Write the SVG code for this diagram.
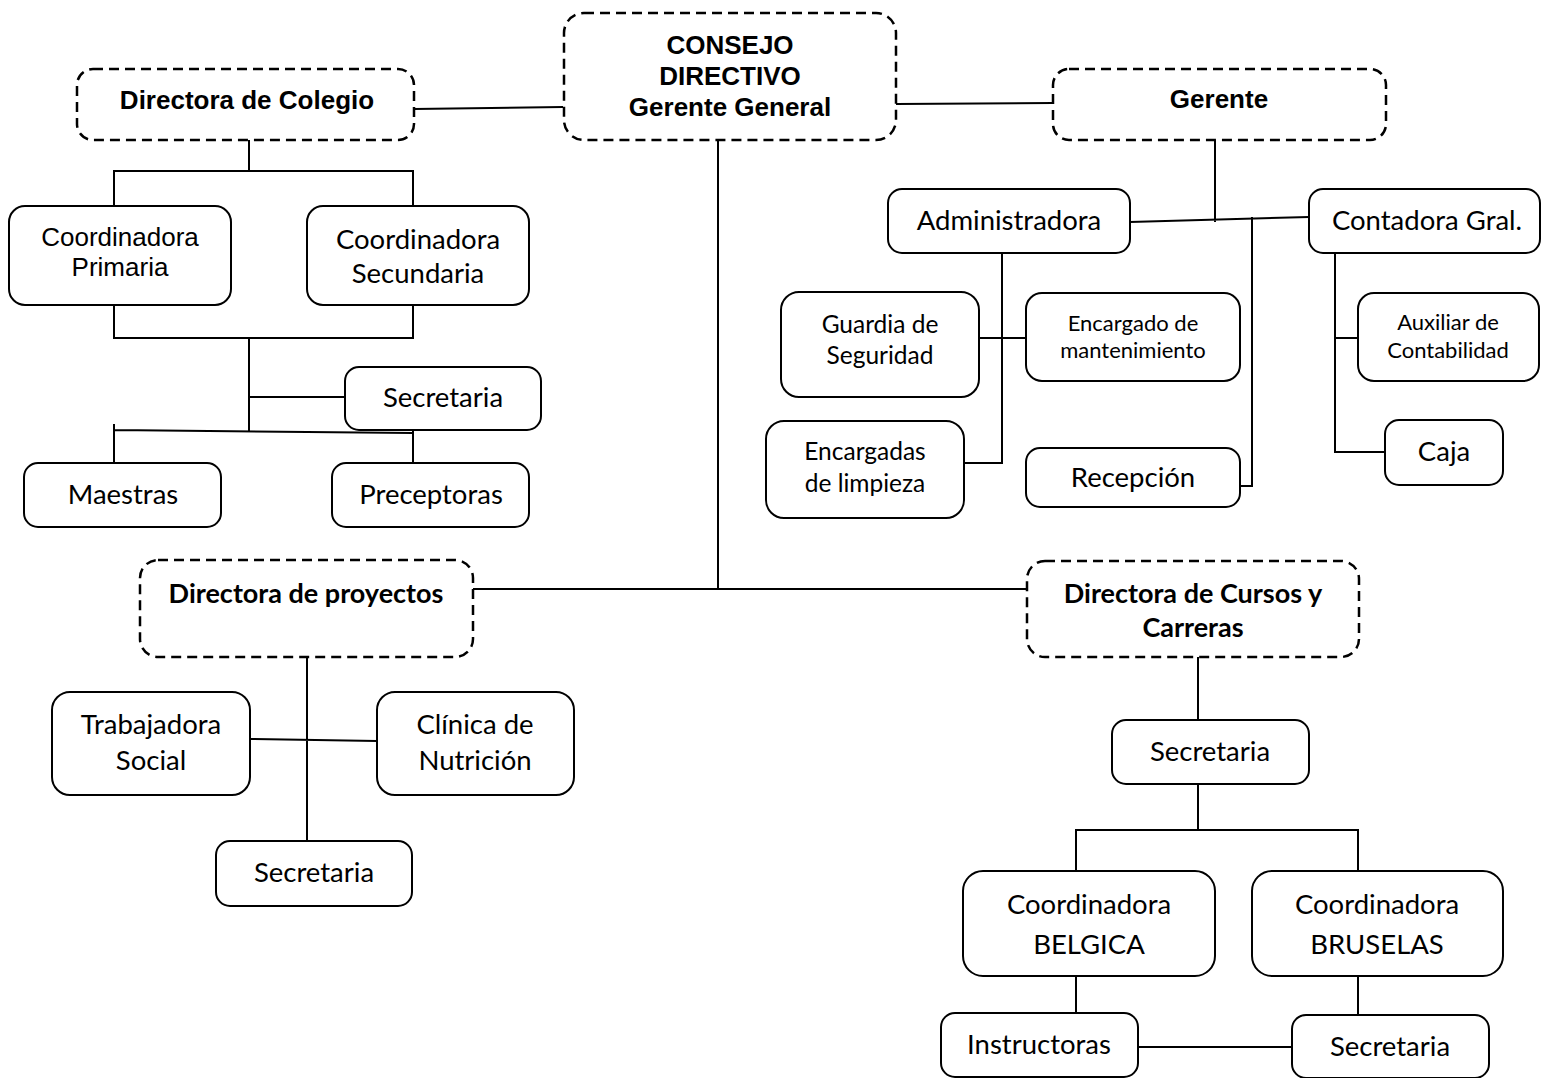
<svg xmlns="http://www.w3.org/2000/svg" width="1541" height="1078" viewBox="0 0 1541 1078">
<style>
.n{fill:#fff;stroke:#000;stroke-width:2}
.d{fill:#fff;stroke:#000;stroke-width:2.5;stroke-dasharray:10 6}
.c{stroke:#000;stroke-width:2;fill:none}
text{text-anchor:middle;fill:#000}
.b{font-family:"Liberation Sans",Arial,sans-serif;font-weight:bold;font-size:26px}
.a{font-family:"Liberation Sans",Arial,sans-serif;font-size:26px}
.l{font-family:Lato,"Liberation Sans",sans-serif;font-size:27.5px}
.lb{font-family:Lato,"Liberation Sans",sans-serif;font-size:27px;font-weight:bold}
.s{font-family:Lato,"Liberation Sans",sans-serif;font-size:24.5px}
.xs{font-family:Lato,"Liberation Sans",sans-serif;font-size:22px}
</style>
<rect width="1541" height="1078" fill="#fff"/>
<g id="connectors">
<path class="c" d="M414 109 L563 107"/>
<path class="c" d="M896 104 L1053 103"/>
<path class="c" d="M249 140 V171 M114 206 V171 H413 V206"/>
<path class="c" d="M114 305 V338 H413 V305 M249 338 V432 M249 397 H345"/>
<path class="c" d="M114 430 L413 433 M114 424 V463 M413 424 V463"/>
<path class="c" d="M718 140 V590 M473 589 H1027"/>
<path class="c" d="M1215 140 V222 M1130 222 L1309 217"/>
<path class="c" d="M1252 217 V486 H1240"/>
<path class="c" d="M1002 253 V463 H964 M979 338 H1026"/>
<path class="c" d="M1335 253 V452 H1385 M1335 338 H1358"/>
<path class="c" d="M307 657 V841 M250 739 L377 741"/>
<path class="c" d="M1198 657 V720 M1198 784 V830 M1076 871 V830 H1358 V871"/>
<path class="c" d="M1076 976 V1013 M1358 976 V1015 M1138 1047 H1292"/>
</g>
<g id="consejo"><rect class="d" x="564" y="13" width="332" height="127" rx="20"/><text class="b" x="730" y="54">CONSEJO</text><text class="b" x="730" y="85">DIRECTIVO</text><text class="b" x="730" y="116">Gerente General</text></g>
<g id="dir-colegio"><rect class="d" x="77" y="69" width="337" height="71" rx="16"/><text class="b" x="247" y="109">Directora de Colegio</text></g>
<g id="gerente"><rect class="d" x="1053" y="69" width="333" height="71" rx="16"/><text class="b" x="1219" y="108">Gerente</text></g>
<g id="coord-primaria"><rect class="n" x="9" y="206" width="222" height="99" rx="16"/><text class="a" x="120" y="246">Coordinadora</text><text class="a" x="120" y="276">Primaria</text></g>
<g id="coord-secundaria"><rect class="n" x="307" y="206" width="222" height="99" rx="16"/><text class="l" x="418" y="249">Coordinadora</text><text class="l" x="418" y="283">Secundaria</text></g>
<g id="secretaria-colegio"><rect class="n" x="345" y="367" width="196" height="63" rx="14"/><text class="l" x="443" y="407">Secretaria</text></g>
<g id="maestras"><rect class="n" x="24" y="463" width="197" height="64" rx="14"/><text class="l" x="123" y="504">Maestras</text></g>
<g id="preceptoras"><rect class="n" x="332" y="463" width="197" height="64" rx="14"/><text class="l" x="431" y="504">Preceptoras</text></g>
<g id="administradora"><rect class="n" x="888" y="189" width="242" height="64" rx="14"/><text class="l" x="1009" y="230">Administradora</text></g>
<g id="contadora"><rect class="n" x="1309" y="189" width="231" height="64" rx="14"/><text class="l" x="1427" y="230">Contadora Gral.</text></g>
<g id="guardia"><rect class="n" x="781" y="292" width="198" height="105" rx="18"/><text class="s" x="880" y="333">Guardia de</text><text class="s" x="880" y="364">Seguridad</text></g>
<g id="mantenimiento"><rect class="n" x="1026" y="293" width="214" height="88" rx="16"/><text class="xs" x="1133" y="331">Encargado de</text><text class="xs" x="1133" y="358">mantenimiento</text></g>
<g id="limpieza"><rect class="n" x="766" y="421" width="198" height="97" rx="18"/><text class="s" x="865" y="460">Encargadas</text><text class="s" x="865" y="492">de limpieza</text></g>
<g id="recepcion"><rect class="n" x="1026" y="448" width="214" height="59" rx="14"/><text class="l" x="1133" y="487">Recepción</text></g>
<g id="auxiliar"><rect class="n" x="1358" y="293" width="181" height="88" rx="16"/><text class="xs" x="1448" y="330">Auxiliar de</text><text class="xs" x="1448" y="358">Contabilidad</text></g>
<g id="caja"><rect class="n" x="1385" y="420" width="118" height="65" rx="14"/><text class="l" x="1444" y="461">Caja</text></g>
<g id="dir-proyectos"><rect class="d" x="140" y="560" width="333" height="97" rx="18"/><text class="lb" x="306" y="603">Directora de proyectos</text></g>
<g id="dir-cursos"><rect class="d" x="1027" y="561" width="332" height="96" rx="18"/><text class="lb" x="1193" y="603">Directora de Cursos y</text><text class="lb" x="1193" y="637">Carreras</text></g>
<g id="trabajadora"><rect class="n" x="52" y="692" width="198" height="103" rx="18"/><text class="l" x="151" y="734">Trabajadora</text><text class="l" x="151" y="770">Social</text></g>
<g id="clinica"><rect class="n" x="377" y="692" width="197" height="103" rx="18"/><text class="l" x="475" y="734">Clínica de</text><text class="l" x="475" y="770">Nutrición</text></g>
<g id="secretaria-proyectos"><rect class="n" x="216" y="841" width="196" height="65" rx="14"/><text class="l" x="314" y="882">Secretaria</text></g>
<g id="secretaria-cursos"><rect class="n" x="1112" y="720" width="197" height="64" rx="14"/><text class="l" x="1210" y="761">Secretaria</text></g>
<g id="coord-belgica"><rect class="n" x="963" y="871" width="252" height="105" rx="20"/><text class="l" x="1089" y="914">Coordinadora</text><text class="l" x="1089" y="954">BELGICA</text></g>
<g id="coord-bruselas"><rect class="n" x="1252" y="871" width="251" height="105" rx="20"/><text class="l" x="1377" y="914">Coordinadora</text><text class="l" x="1377" y="954">BRUSELAS</text></g>
<g id="instructoras"><rect class="n" x="941" y="1013" width="197" height="64" rx="14"/><text class="l" x="1039" y="1054">Instructoras</text></g>
<g id="secretaria-bruselas"><rect class="n" x="1292" y="1015" width="197" height="63" rx="14"/><text class="l" x="1390" y="1056">Secretaria</text></g>
</svg>
